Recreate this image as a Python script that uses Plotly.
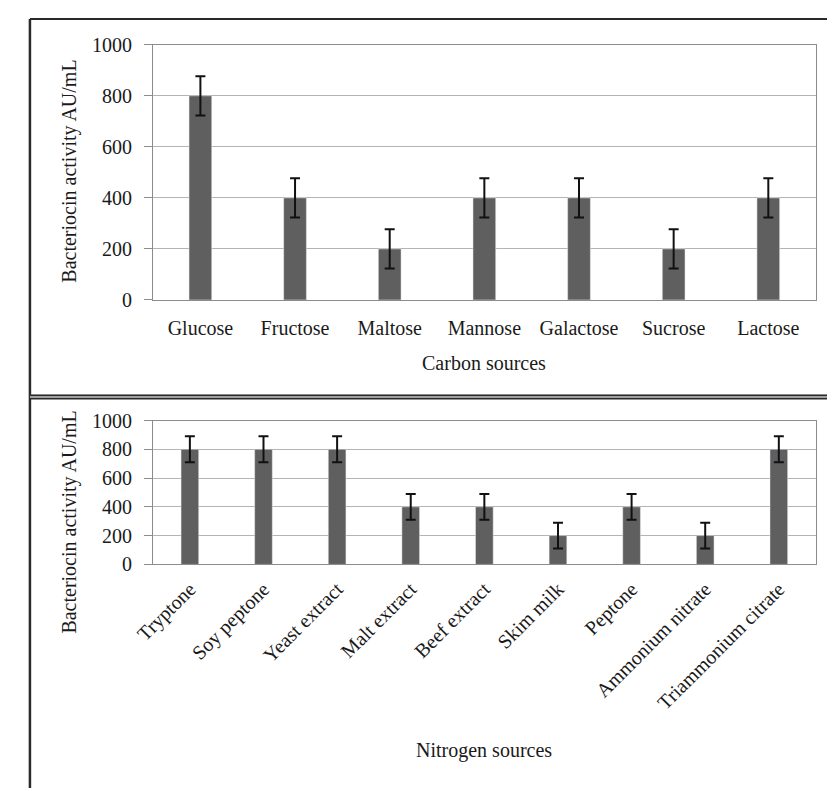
import plotly.graph_objects as go

carbon_sources = ["Glucose", "Fructose", "Maltose", "Mannose", "Galactose", "Sucrose", "Lactose"]
carbon_activity = [800, 400, 200, 400, 400, 200, 400]
carbon_error = [77, 77, 77, 77, 77, 77, 77]

nitrogen_sources = ["Tryptone", "Soy peptone", "Yeast extract", "Malt extract", "Beef extract",
                    "Skim milk", "Peptone", "Ammonium nitrate", "Triammonium citrate"]
nitrogen_activity = [800, 800, 800, 400, 400, 200, 400, 200, 800]
nitrogen_error = [90, 90, 90, 90, 90, 90, 90, 90, 90]

y_ticks = [0, 200, 400, 600, 800, 1000]

W, H = 835, 791
OFF = 8  # page body margin


def px(x):
    return (x - OFF) / W


def py(y):
    return 1 - (y - OFF) / H


FONT = "Liberation Serif"
BAR = "#5f5f5f"
GRID = "#b4b4b4"
AXIS = "#8c8c8c"

fig = go.Figure()
fig.add_trace(go.Bar(
    x=carbon_sources, y=carbon_activity, width=0.24, marker_color=BAR,
    error_y=dict(type="data", array=carbon_error, color="#111111", thickness=2, width=5),
    xaxis="x", yaxis="y", showlegend=False))
fig.add_trace(go.Bar(
    x=nitrogen_sources, y=nitrogen_activity, width=0.24, marker_color=BAR,
    error_y=dict(type="data", array=nitrogen_error, color="#111111", thickness=2, width=5),
    xaxis="x2", yaxis="y2", showlegend=False))

tickfont = dict(family=FONT, size=20, color="#1a1a1a")
common_y = dict(range=[0, 1000], tickvals=y_ticks, showgrid=True, gridcolor=GRID, gridwidth=1.3,
                showline=True, linecolor=AXIS, linewidth=1.3, mirror=True,
                ticks="outside", ticklen=8, tickcolor=AXIS, tickfont=tickfont,
                zeroline=False, fixedrange=True)
common_x = dict(showline=True, linecolor=AXIS, linewidth=1.3, mirror=True, ticks="",
                tickfont=tickfont, showgrid=False, fixedrange=True)

fig.update_layout(
    width=W, height=H, margin=dict(l=0, r=0, t=0, b=0),
    paper_bgcolor="white", plot_bgcolor="white",
    xaxis=dict(domain=[px(137), px(815)], anchor="y", tickangle=0, ticklabelstandoff=10, **common_x),
    yaxis=dict(domain=[py(297), py(34.5)], anchor="x", ticklabelstandoff=8, **common_y),
    xaxis2=dict(domain=[px(137), px(815)], anchor="y2", tickangle=-45, ticklabelstandoff=4, **common_x),
    yaxis2=dict(domain=[py(569), py(421)], anchor="x2", ticklabelstandoff=8, **common_y),
    bargap=0.76,
)

title_font = dict(family=FONT, size=20, color="#1a1a1a")
fig.add_annotation(text="Carbon sources", x=px(476), y=py(362), xref="paper", yref="paper",
                   showarrow=False, font=title_font, xanchor="center", yanchor="middle")
fig.add_annotation(text="Nitrogen sources", x=px(476), y=py(760), xref="paper", yref="paper",
                   showarrow=False, font=title_font, xanchor="center", yanchor="middle")
fig.add_annotation(text="Bacteriocin activity AU/mL", x=px(52), y=py(164), xref="paper", yref="paper",
                   showarrow=False, font=title_font, textangle=-90, xanchor="center", yanchor="middle")
fig.add_annotation(text="Bacteriocin activity AU/mL", x=px(52), y=py(525), xref="paper", yref="paper",
                   showarrow=False, font=title_font, textangle=-90, xanchor="center", yanchor="middle")

# outer frame lines
fig.add_shape(type="line", xref="paper", yref="paper", x0=px(11), x1=1, y0=py(8), y1=py(8),
              line=dict(color="#2a2a2a", width=2.2))
fig.add_shape(type="line", xref="paper", yref="paper", x0=px(11), x1=px(11), y0=py(8), y1=0,
              line=dict(color="#2a2a2a", width=2.5))
fig.add_shape(type="rect", xref="paper", yref="paper", x0=px(11), x1=1, y0=py(398.5), y1=py(394.5),
              fillcolor="#a0a0a0", line=dict(width=0))
fig.add_shape(type="line", xref="paper", yref="paper", x0=px(11), x1=1, y0=py(395), y1=py(395),
              line=dict(color="#2a2a2a", width=1.5))
fig.add_shape(type="line", xref="paper", yref="paper", x0=px(11), x1=1, y0=py(398.5), y1=py(398.5),
              line=dict(color="#2a2a2a", width=1.5))

fig.write_html("out.html")
